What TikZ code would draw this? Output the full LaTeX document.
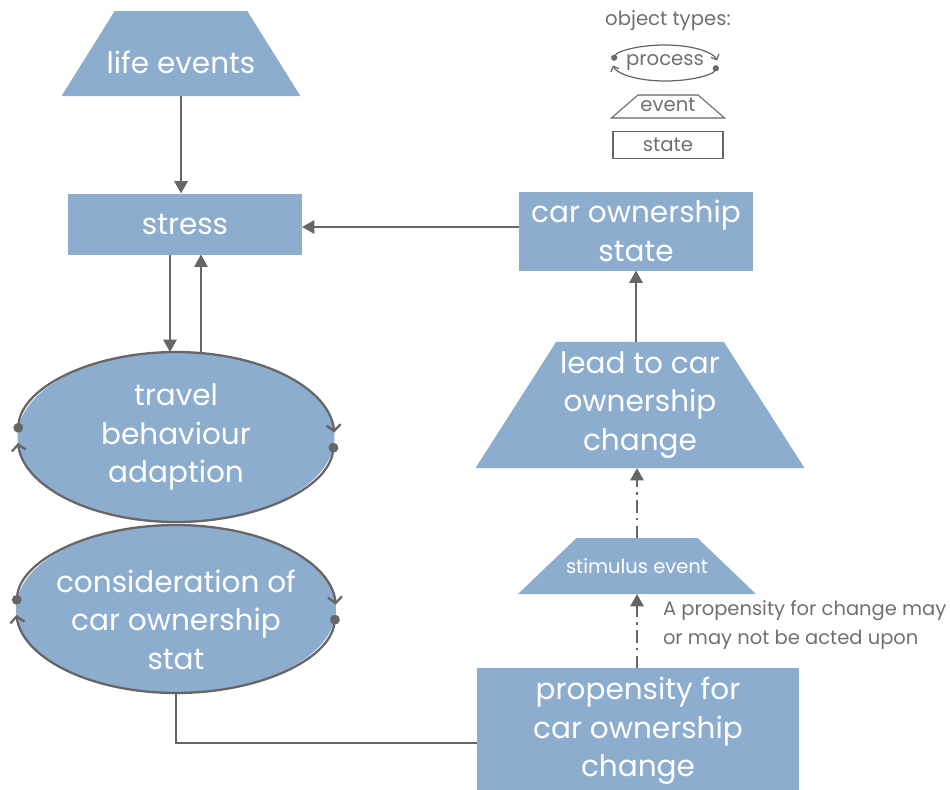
\documentclass[tikz,border=0pt]{standalone}
\usepackage{fontspec}
\setmainfont{Poppins}
\usetikzlibrary{positioning, arrows.meta, shapes.geometric}
\definecolor{objblue}{HTML}{8CADCE}
\definecolor{objline}{HTML}{666666}
\definecolor{objmuted}{HTML}{707070}

\begin{document}
\begin{tikzpicture}[
    x=0.02cm, y=0.02cm,
    every node/.style={font=\fontsize{16.8}{22}\selectfont, text=white,
      align=center, inner sep=0pt, outer sep=0pt},
    statebox/.style={
      rectangle, fill=objblue,
      minimum width=4.68cm, minimum height=1.22cm,
    },
    eventbox/.style={
      trapezium, fill=objblue,
    },
    procbox/.style={
      ellipse, fill=objblue, inner xsep=-1cm,
    },
    flow/.style={
      -{Triangle[length=7pt,width=7.5pt]}, draw=objline, line width=1.3pt,
    },
    maybe/.style={
      flow, dash pattern=on 7pt off 3pt on 1.5pt off 3pt,
    },
    procloop/.style={
      draw=objline, line width=1.3pt,
      {Circle[length=5.5pt]}-{Straight Barb[length=3.5pt,width=8pt]},
    },
    legend/.style={
      font=\fontsize{11.2}{14}\selectfont, text=objmuted,
    },
    note/.style={
      font=\fontsize{11.1}{16.4}\selectfont, text=objmuted, align=left,
    },
  ]
  \useasboundingbox (0,0) rectangle (950,-789);

  % main objects
  \node[eventbox, trapezium angle=58, inner xsep=-0.16cm,
    text height=1.24cm, text depth=0.46cm] (life) at (181,-53.5) {life events};
  \node[statebox] (stress) at (185,-224) {stress};
  \node[statebox, minimum height=1.58cm] (carstate) at (636,-231) {car ownership\\state};
  \node[procbox, minimum width=6.34cm, minimum height=3.4cm] (trav) at (176,-437) {travel\\behaviour\\adaption};
  \node[procbox, minimum width=6.4cm, minimum height=3.36cm, inner ysep=-0.2cm] (consid) at (176,-609)
    {\rule{0pt}{0.88cm}consideration of\\car ownership\\stat};
  \node[eventbox, trapezium angle=57.4, inner xsep=0.08cm, inner ysep=0.19cm] (lead) at (640,-405)
    {lead to car\\ownership\\change};
  \node[eventbox, trapezium angle=43.75, inner xsep=-0.21cm, text height=0.7cm, text depth=0.42cm,
    font=\fontsize{11.1}{14}\selectfont] (stim) at (637,-566) {stimulus event};
  \node[statebox, minimum width=6.46cm, minimum height=2.52cm] (prop) at (638,-731) {propensity for\\car ownership\\change};
  \node[note, anchor=west] (hint) at (663,-625) {A propensity for change may\\or may not be acted upon};

  % process loops
  \foreach \n/\rx/\ry in {trav/3.17/1.7, consid/3.2/1.68} {
    \draw[procloop] (\n.center) ++(177:\rx cm and \ry cm)
      arc[start angle=177, end angle=3, x radius=\rx cm, y radius=\ry cm];
    \draw[procloop] (\n.center) ++(-4:\rx cm and \ry cm)
      arc[start angle=-4, end angle=-176, x radius=\rx cm, y radius=\ry cm];
  }

  % connectors
  \draw[flow] (life.south) -- (life.south |- stress.north);
  \draw[flow] ([yshift=0.08cm]carstate.west) -- ([yshift=0.08cm]carstate.west -| stress.east);
  \draw[flow] ([xshift=-0.3cm]stress.south) -- ([xshift=-0.3cm]stress.south |- trav.north);
  \draw[flow] ([xshift=0.32cm]stress.south |- trav.north) -- ([xshift=0.32cm]stress.south);
  \draw[draw=objline, line width=1.3pt] (consid.south) |- ([yshift=-0.24cm]prop.west);
  \draw[maybe] (prop.north -| stim.south) -- (stim.south);
  \draw[maybe] (stim.north) -- (stim.north |- lead.south);
  \draw[flow] (lead.north -| carstate.south) -- (carstate.south);

  % legend
  \node[legend] (types) at (668,-21) {object types:};
  \node[legend, ellipse, minimum width=2.1cm, minimum height=0.72cm, inner xsep=-0.3cm] (lproc) at (665,-63) {process};
  \draw[procloop, line width=0.7pt, {Circle[length=3.5pt]}-{Straight Barb[length=2.5pt,width=5pt]}]
    (lproc.center) ++(172:1.05cm and 0.36cm)
    arc[start angle=172, end angle=8, x radius=1.05cm, y radius=0.36cm];
  \draw[procloop, line width=0.7pt, {Circle[length=3.5pt]}-{Straight Barb[length=2.5pt,width=5pt]}]
    (lproc.center) ++(-8:1.05cm and 0.36cm)
    arc[start angle=-8, end angle=-172, x radius=1.05cm, y radius=0.36cm];
  \node[legend, trapezium, draw=objline, line width=0.6pt, trapezium angle=41, inner xsep=0.05cm,
    text height=0.33cm, text depth=0.13cm] (levent) at (668,-106.5) {event};
  \node[legend, draw=objline, line width=0.6pt, minimum width=2.2cm, minimum height=0.54cm] (lstate) at (668,-145) {state};
\end{tikzpicture}
\end{document}
